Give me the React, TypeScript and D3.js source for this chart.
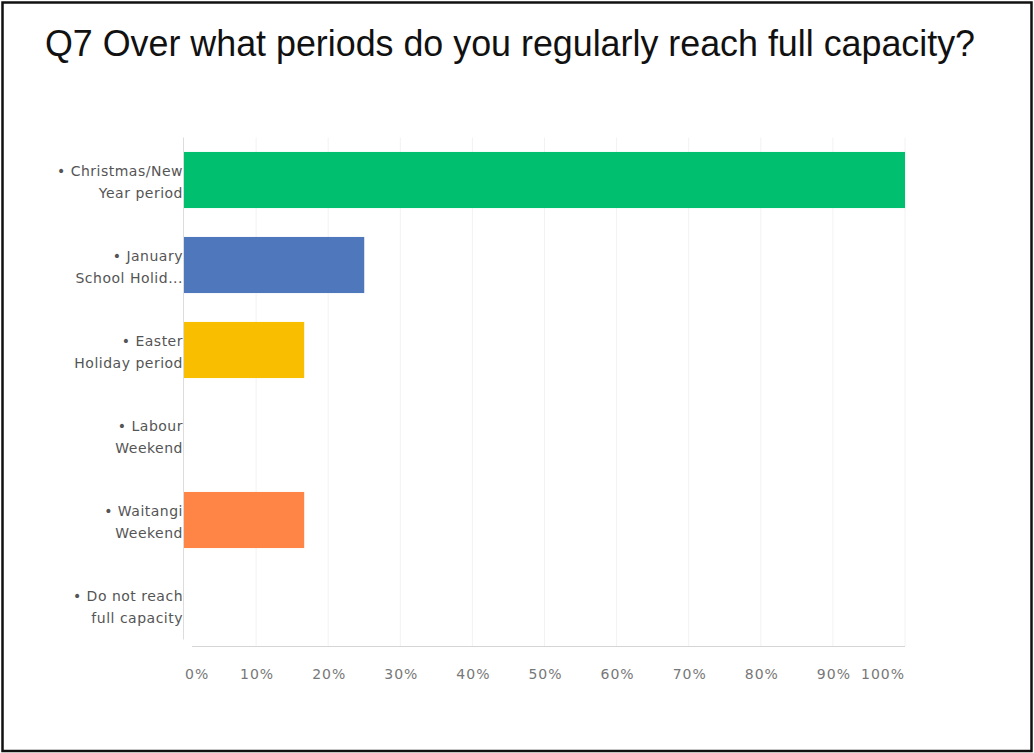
import React, { useEffect, useRef } from "react";
import * as d3 from "d3";

const title = "Q7 Over what periods do you regularly reach full capacity?";
const categories = [
  ["• Christmas/New", "Year period"],
  ["• January", "School Holid..."],
  ["• Easter", "Holiday period"],
  ["• Labour", "Weekend"],
  ["• Waitangi", "Weekend"],
  ["• Do not reach", "full capacity"],
];
const values = [100, 25, 16.67, 0, 16.67, 0];
const colors = ["#00BF6F", "#4F78BC", "#F9BE00", "#6BC8CD", "#FF8547", "#7D5E90"];
const ticks = [0, 10, 20, 30, 40, 50, 60, 70, 80, 90, 100];

export default function App() {
  const ref = useRef<SVGSVGElement>(null);
  useEffect(() => {
    const svg = d3.select(ref.current);
    svg.selectAll("*").remove();
    const W = 1034, H = 753;
    const left = 184, right = 905, top = 137.5, bottom = 647.5;
    svg.append("rect").attr("x", 0).attr("y", 0).attr("width", W).attr("height", H).attr("fill", "#fff");
    svg.append("rect").attr("x", 2.5).attr("y", 2.5).attr("width", W - 5).attr("height", H - 4.5)
      .attr("fill", "none").attr("stroke", "#111").attr("stroke-width", 2.5);

    svg.append("text").attr("x", 45).attr("y", 56).attr("font-family", "Liberation Sans")
      .attr("font-size", 36).attr("fill", "#111")
      .attr("textLength", 930).attr("lengthAdjust", "spacingAndGlyphs").text(title);

    const x = d3.scaleLinear().domain([0, 100]).range([left, right]);
    const y = d3.scaleBand<number>().domain(d3.range(categories.length)).range([top, bottom]).paddingInner(0.34).paddingOuter(0.17);

    const g = svg.append("g");
    ticks.forEach((t) => {
      if (t === 0) return;
      g.append("line").attr("x1", x(t)).attr("x2", x(t)).attr("y1", top).attr("y2", bottom - 1)
        .attr("stroke", "#f2f2f2").attr("stroke-width", 1);
    });
    g.append("line").attr("x1", left - 0.5).attr("x2", left - 0.5).attr("y1", top).attr("y2", bottom - 8)
      .attr("stroke", "#dcdcdc");
    g.append("line").attr("x1", left + 8).attr("x2", right).attr("y1", bottom - 1).attr("y2", bottom - 1)
      .attr("stroke", "#d5d5d5");

    values.forEach((v, i) => {
      g.append("rect").attr("x", x(0)).attr("y", y(i)!).attr("width", x(v) - x(0)).attr("height", y.bandwidth())
        .attr("fill", colors[i]);
      const cy = y(i)! + y.bandwidth() / 2;
      const lines = categories[i];
      lines.forEach((ln, j) => {
        g.append("text").attr("x", left - 1).attr("y", cy - 4 + j * 21.5).attr("text-anchor", "end")
          .attr("font-family", "DejaVu Sans").attr("font-size", 14).attr("letter-spacing", 0.5)
          .attr("fill", "#555").text(ln);
      });
    });

    ticks.forEach((t, i) => {
      const anchor = i === 0 ? "start" : i === ticks.length - 1 ? "end" : "middle";
      const xx = i === 0 ? x(t) + 1 : i === ticks.length - 1 ? x(t) : x(t) + 1;
      g.append("text").attr("x", xx).attr("y", 679).attr("text-anchor", anchor)
        .attr("font-family", "DejaVu Sans").attr("font-size", 14).attr("letter-spacing", 1)
        .attr("fill", "#777").text(`${t}%`);
    });
  }, []);
  return <svg ref={ref} width={1034} height={753} style={{ position: "absolute", left: 0, top: 0 }} />;
}
